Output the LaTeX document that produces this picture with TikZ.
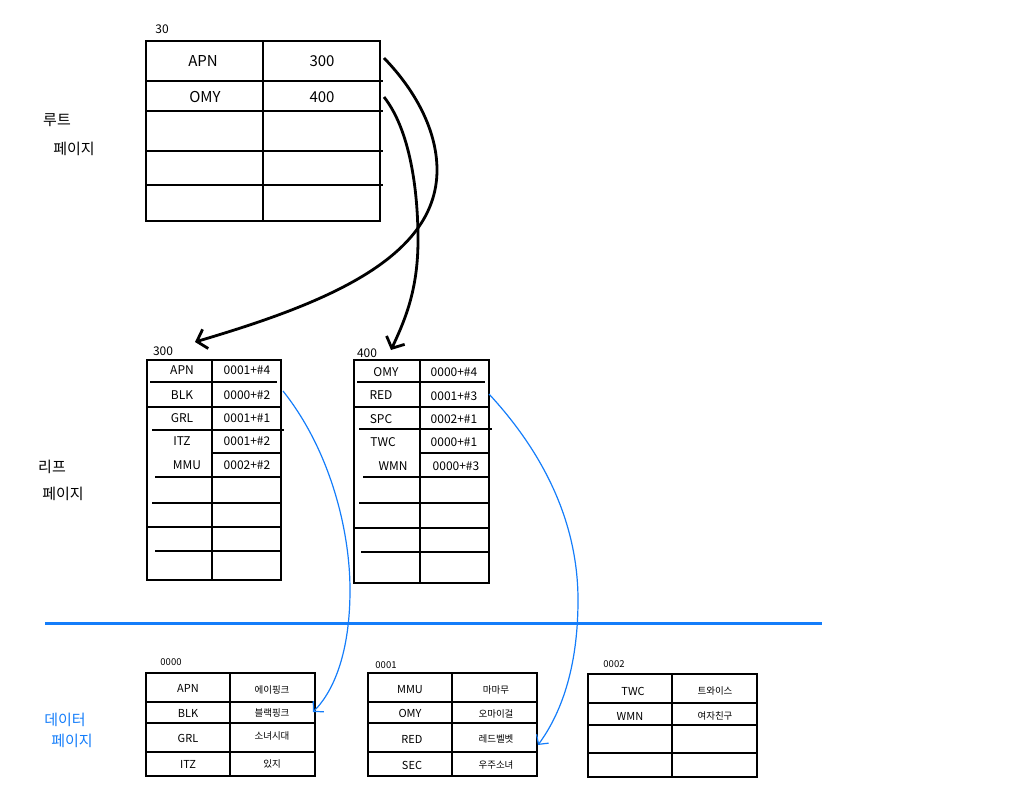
\documentclass[tikz,border=0pt]{standalone}
\usepackage{fontspec}
\setmainfont{Noto Sans CJK KR}
\usetikzlibrary{arrows.meta}
\definecolor{ink}{RGB}{20,125,250}
\begin{document}
\begin{tikzpicture}[x=1pt,y=-1pt,
  tbl/.style={line width=2.8pt},
  dtbl/.style={line width=1.9pt},
  rt/.style={font=\fontsize{15}{15}\selectfont, inner sep=0pt},
  lt/.style={font=\fontsize{12}{12}\selectfont, inner sep=0pt},
  dt/.style={font=\fontsize{11}{11}\selectfont, inner sep=0pt},
  dk/.style={font=\fontsize{9.5}{9.5}\selectfont, inner sep=0pt},
  lbl/.style={font=\fontsize{12}{12}\selectfont, inner sep=0pt},
  side/.style={font=\fontsize{15}{15}\selectfont, inner sep=0pt},
  bigarrow/.style={-{Straight Barb[length=9pt,width=20pt]}, line width=2.8pt},
  bluearrow/.style={-{Straight Barb[length=7pt,width=15pt]}, line width=1.2pt, draw=ink}
]
\useasboundingbox (0,0) rectangle (1018,809);

% ---------- side labels ----------
\node[side] (rootA) at (57,120) {루트};
\node[side] (rootB) at (74,149) {페이지};
\node[side] (leafA) at (52,467) {리프};
\node[side] (leafB) at (63,494) {페이지};
\node[side, text=ink] (dataA) at (65,720) {데이터};
\node[side, text=ink] (dataB) at (72,741) {페이지};

% ---------- root page ----------
\node[lbl] (rootlbl) at (162,29) {30};
\draw[tbl] (146,41) rectangle (380,221);
\draw[tbl] (263,41) -- (263,221);
\foreach \y in {81,111,151,185} \draw[tbl] (146,\y) -- (383,\y);
\node[rt] (rAPN) at (203,61) {APN};
\node[rt] (r300) at (322,61) {300};
\node[rt] (rOMY) at (205,97) {OMY};
\node[rt] (r400) at (322,97) {400};

% ---------- leaf page 300 ----------
\node[lbl] (l300lbl) at (163,351) {300};
\draw[tbl] (147,360) rectangle (281,580);
\draw[tbl] (212,360) -- (212,580);
\draw[tbl] (150,382) -- (277,382);
\draw[tbl] (147,407) -- (281,407);
\draw[tbl] (152,430) -- (284,430);
\draw[tbl] (212,453) -- (281,453);
\draw[tbl] (155,477) -- (281,477);
\draw[tbl] (152,503) -- (281,503);
\draw[tbl] (147,527) -- (281,527);
\draw[tbl] (155,551) -- (281,551);
\node[lt] (aK1) at (182,370) {APN};  \node[lt] (aV1) at (247,370) {0001+\#4};
\node[lt] (aK2) at (182,395) {BLK};  \node[lt] (aV2) at (247,395) {0000+\#2};
\node[lt] (aK3) at (182,418) {GRL};  \node[lt] (aV3) at (247,418) {0001+\#1};
\node[lt] (aK4) at (182,441) {ITZ};  \node[lt] (aV4) at (247,441) {0001+\#2};
\node[lt] (aK5) at (187,465) {MMU};  \node[lt] (aV5) at (247,465) {0002+\#2};

% ---------- leaf page 400 ----------
\node[lbl] (l400lbl) at (367,353) {400};
\draw[tbl] (354,360) rectangle (489,583);
\draw[tbl] (420,360) -- (420,583);
\draw[tbl] (357,382) -- (485,382);
\draw[tbl] (354,407) -- (489,407);
\draw[tbl] (359,429) -- (492,429);
\draw[tbl] (420,453) -- (489,453);
\draw[tbl] (363,477) -- (489,477);
\draw[tbl] (359,503) -- (489,503);
\draw[tbl] (354,528) -- (489,528);
\draw[tbl] (361,552) -- (489,552);
\node[lt] (bK1) at (386,372) {OMY};  \node[lt] (bV1) at (454,372) {0000+\#4};
\node[lt] (bK2) at (381,395) {RED};  \node[lt] (bV2) at (454,396) {0001+\#3};
\node[lt] (bK3) at (381,419) {SPC};  \node[lt] (bV3) at (454,419) {0002+\#1};
\node[lt] (bK4) at (383,442) {TWC};  \node[lt] (bV4) at (454,442) {0000+\#1};
\node[lt] (bK5) at (393,466) {WMN};  \node[lt] (bV5) at (456,466) {0000+\#3};

% ---------- separator ----------
\draw[ink, line width=3pt] (45,623) coordinate (sepL) -- (822,623) coordinate (sepR);

% ---------- data page 0000 ----------
\node[dk] (d0lbl) at (171,662) {0000};
\draw[dtbl] (146,673) rectangle (315,776);
\draw[dtbl] (230,673) -- (230,776);
\foreach \y in {702,723,752} \draw[dtbl] (146,\y) -- (315,\y);
\node[dt] (cK1) at (188,688) {APN}; \node[dk] (cV1) at (272,690) {에이핑크};
\node[dt] (cK2) at (188,713) {BLK}; \node[dk] (cV2) at (272,713) {블랙핑크};
\node[dt] (cK3) at (188,738) {GRL}; \node[dk] (cV3) at (272,736) {소녀시대};
\node[dt] (cK4) at (188,764) {ITZ}; \node[dk] (cV4) at (272,764) {있지};

% ---------- data page 0001 ----------
\node[dk] (d1lbl) at (386,665) {0001};
\draw[dtbl] (368,673) rectangle (537,776);
\draw[dtbl] (452,673) -- (452,776);
\foreach \y in {702,723,752} \draw[dtbl] (368,\y) -- (537,\y);
\node[dt] (eK1) at (410,690) {MMU}; \node[dk] (eV1) at (496,690) {마마무};
\node[dt] (eK2) at (410,713) {OMY}; \node[dk] (eV2) at (496,714) {오마이걸};
\node[dt] (eK3) at (412,739) {RED}; \node[dk] (eV3) at (496,739) {레드벨벳};
\node[dt] (eK4) at (412,765) {SEC}; \node[dk] (eV4) at (496,765) {우주소녀};

% ---------- data page 0002 ----------
\node[dk] (d2lbl) at (614,664) {0002};
\draw[dtbl] (588,674) rectangle (757,777);
\draw[dtbl] (672,674) -- (672,777);
\foreach \y in {703,725,753} \draw[dtbl] (588,\y) -- (757,\y);
\node[dt] (fK1) at (633,691) {TWC}; \node[dk] (fV1) at (715,691) {트와이스};
\node[dt] (fK2) at (630,716) {WMN}; \node[dk] (fV2) at (715,716) {여자친구};

% ---------- connectors ----------
\coordinate (s300) at (384,58);
\coordinate (t300) at (195,342);
\coordinate (s400) at (384,97);
\coordinate (t400) at (391,350);
\coordinate (sBLK) at (283,391);
\coordinate (tBLK) at (313,712);
\coordinate (sRED) at (489,394);
\coordinate (tRED) at (538,745);

\draw[bigarrow] (s300) .. controls (415,90) and (437,130) .. (437,170)
  .. controls (437,260) and (320,305) .. (t300);
\draw[bigarrow] (s400) .. controls (410,130) and (418,190) .. (418,240)
  .. controls (418,290) and (405,320) .. (t400);
\draw[bluearrow] (sBLK) .. controls (330,450) and (350,530) .. (350,590)
  .. controls (350,650) and (335,690) .. (tBLK);
\draw[bluearrow] (sRED) .. controls (550,460) and (578,530) .. (578,600)
  .. controls (578,670) and (560,715) .. (tRED);
\end{tikzpicture}
\end{document}
